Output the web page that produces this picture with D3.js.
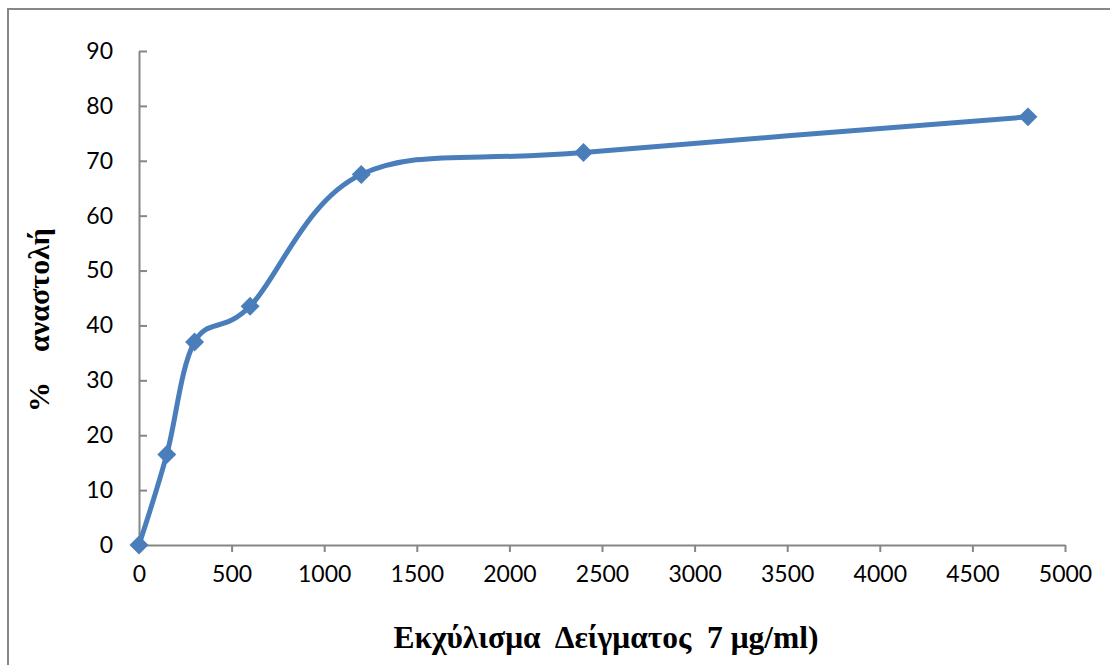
<!DOCTYPE html>
<html><head><meta charset="utf-8">
<script src="https://cdn.jsdelivr.net/npm/d3@7"></script>
<style>body{margin:0;background:#fff;}svg{display:block;}</style>
</head><body>
<script>
const xValues = [0, 150, 300, 600, 1200, 2400, 4800];
const yValues = [0, 16.5, 37, 43.5, 67.5, 71.5, 78];
const xTicks = [0, 500, 1000, 1500, 2000, 2500, 3000, 3500, 4000, 4500, 5000];
const yTicks = [0, 10, 20, 30, 40, 50, 60, 70, 80, 90];
const xTitle = "Εκχύλισμα  Δείγματος  7 μg/ml)";
const yTitle = "%    αναστολή";

const W = 1110, H = 665;
const svg = d3.select("body").append("svg").attr("width", W).attr("height", H);
svg.append("rect").attr("x", 8).attr("y", 9).attr("width", W + 10).attr("height", H + 10)
  .attr("fill", "#fff").attr("stroke", "#878787").attr("stroke-width", 2);

const x = d3.scaleLinear().domain([0, 5000]).range([139, 1065]);
const y = d3.scaleLinear().domain([0, 90]).range([545, 51]);
const axisColor = "#868686";
const tickFont = "Lato, 'Open Sans', sans-serif";

// x axis
const gx = svg.append("g").attr("transform", `translate(0,${y(0)})`)
  .call(d3.axisBottom(x).tickValues(xTicks).tickFormat(d3.format("d")).tickSize(7).tickPadding(14).tickSizeOuter(0));
gx.select(".domain").attr("stroke", axisColor).attr("stroke-width", 2);
gx.selectAll(".tick line").attr("stroke", axisColor).attr("stroke-width", 2);
gx.selectAll(".tick text").attr("font-family", tickFont).attr("font-size", 23).attr("fill", "#000");

// y axis (ticks inside)
const gy = svg.append("g").attr("transform", `translate(${x(0)},0)`)
  .call(d3.axisRight(y).tickValues(yTicks).tickFormat(d3.format("d")).tickSize(8).tickSizeOuter(0));
gy.select(".domain").attr("stroke", axisColor).attr("stroke-width", 2);
gy.selectAll(".tick text").attr("x", -26).attr("text-anchor", "end")
  .attr("font-family", tickFont).attr("font-size", 23).attr("fill", "#000");
gy.selectAll(".tick line").attr("stroke", axisColor).attr("stroke-width", 2);

// data
const data = xValues.map((v, i) => ({x: v, y: yValues[i]}));
const color = "#4a7ebb";
const line = d3.line().x(d => x(d.x)).y(d => y(d.y)).curve(d3.curveCatmullRom.alpha(0));
svg.append("path").datum(data).attr("d", line).attr("fill", "none")
  .attr("stroke", color).attr("stroke-width", 5).attr("stroke-linejoin", "round");

const diamond = d3.symbol().type(d3.symbolSquare).size(180);
svg.selectAll(".pt").data(data).enter().append("path")
  .attr("transform", d => `translate(${x(d.x)},${y(d.y)}) rotate(45)`)
  .attr("d", diamond).attr("fill", color);

// titles
svg.append("text").attr("x", 606).attr("y", 648).attr("text-anchor", "middle")
  .attr("font-family", "'Liberation Serif', 'Times New Roman', serif").attr("font-weight", "bold")
  .attr("font-size", 31.5).attr("fill", "#000").style("white-space", "pre").text(xTitle);
svg.append("text").attr("transform", "translate(49,320) rotate(-90)").attr("text-anchor", "middle")
  .attr("font-family", "'Liberation Serif', 'Times New Roman', serif").attr("font-weight", "bold")
  .attr("font-size", 30).attr("fill", "#000").style("white-space", "pre").text(yTitle);
</script>
</body></html>
